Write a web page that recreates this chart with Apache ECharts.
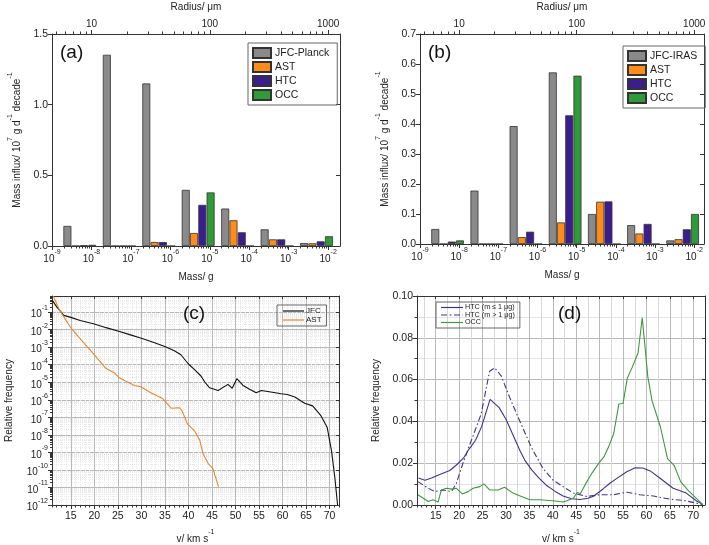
<!DOCTYPE html>
<html><head><meta charset="utf-8">
<script src="https://cdn.jsdelivr.net/npm/echarts@6/dist/echarts.min.js"></script>
<style>html,body{margin:0;padding:0;background:#fff}#c{width:709px;height:545px}</style>
</head><body><div id="c"></div>
<script>
// ---------------- DATA ----------------
// lower edge (log10 g) of each mass decade bin
const massBins = [-9, -8, -7, -6, -5, -4, -3];
// panel (a)  mass influx, 10^7 g/d/decade
const aJFC = [0.142, 1.353, 1.150, 0.397, 0.265, 0.118, 0.021];
const aAST = [0, 0, 0.028, 0.092, 0.182, 0.047, 0.019];
const aHTC = [0.005, 0, 0.028, 0.291, 0.097, 0.047, 0.033];
const aOCC = [0.008, 0, 0, 0.379, 0, 0, 0.069];
// panel (b)
const bJFC = [0.050, 0.178, 0.393, 0.572, 0.100, 0.063, 0.012];
const bAST = [0, 0, 0.023, 0.072, 0.141, 0.035, 0.016];
const bHTC = [0.008, 0, 0.041, 0.429, 0.142, 0.067, 0.049];
const bOCC = [0.012, 0, 0, 0.561, 0, 0, 0.100];
// tick labels
const massTickExp = [-9, -8, -7, -6, -5, -4, -3, -2];
const radiusTicks = [10, 100, 1000];
const vTicks = [15, 20, 25, 30, 35, 40, 45, 50, 55, 60, 65, 70];
const logTickExp = [-12, -11, -10, -9, -8, -7, -6, -5, -4, -3, -2, -1];
// panel (c) velocity distributions (v km/s, relative frequency)
const cJFCv = [11, 12, 12.6, 13.5, 15, 17, 20, 22.5, 25, 27.5, 30, 32.5, 35, 37, 38.4, 40, 41.3, 42.7, 43.5, 44.5, 46.3, 48.4, 49.3, 50.3, 51.6, 53, 54.4, 55.5, 57.5, 59.7, 61, 62.6, 64.7, 66.4, 68.2, 69.5, 70.4, 71.1, 71.7];
const cJFCf = [0.5, 0.2, 0.13, 0.065, 0.05, 0.033, 0.021, 0.013, 0.0083, 0.0052, 0.0032, 0.0019, 0.0011, 6.3e-4, 3.7e-4, 1.1e-4, 5.2e-5, 2.2e-5, 1.0e-5, 4.8e-6, 3.4e-6, 7.6e-6, 4.5e-6, 1.6e-5, 6.6e-6, 4e-6, 2.5e-6, 3.4e-6, 2.8e-6, 2.2e-6, 2.0e-6, 1.45e-6, 6.3e-7, 4.5e-7, 1.2e-7, 2.6e-8, 1.26e-9, 4e-11, 1e-12];
const cASTv = [11.3, 12.6, 15.1, 17.2, 19.7, 22.5, 24.3, 25.3, 28.5, 29.9, 32, 34.5, 36.3, 38.1, 38.6, 39.8, 41.3, 42.4, 43.1, 44.2, 45.2, 46.4];
const cASTf = [0.8, 0.13, 0.0117, 0.0026, 4.6e-4, 6e-5, 3.4e-5, 1.8e-5, 6.6e-6, 5.5e-6, 2.5e-6, 1.2e-6, 3.3e-7, 3.5e-7, 2.5e-7, 4.2e-8, 1.7e-8, 5e-9, 8.3e-10, 2.3e-10, 1.2e-10, 1.07e-11];
// panel (d)
const dHTC1v = [11.3, 12.7, 14.1, 15.6, 18, 19.6, 20.9, 22.2, 23.5, 24.8, 26.6, 28.5, 30, 31.5, 33, 34, 35.5, 37, 38.7, 40.5, 42.2, 44, 45.8, 47.5, 48.7, 50.8, 52.2, 53.6, 55.8, 57.6, 59.2, 60.8, 62.9, 65.7, 68.5, 70.7, 72];
const dHTC1f = [0.0129, 0.0118, 0.0129, 0.0144, 0.0165, 0.0195, 0.0224, 0.027, 0.031, 0.0375, 0.0505, 0.0467, 0.041, 0.0335, 0.026, 0.0215, 0.0168, 0.013, 0.0093, 0.0065, 0.0043, 0.003, 0.0026, 0.0032, 0.0042, 0.0078, 0.0104, 0.0126, 0.0159, 0.0178, 0.0177, 0.0163, 0.0128, 0.008, 0.0057, 0.0019, 0.0003];
const dHTC2v = [11.2, 13.4, 14.8, 16.6, 18.4, 19.4, 20.8, 22.6, 24.7, 26.5, 27.6, 29, 30.8, 32.9, 35.4, 37.9, 40, 42.2, 44.4, 47.2, 50.1, 52.9, 55.8, 58.6, 61.5, 65, 67.9, 70.7, 72];
const dHTC2f = [0.0112, 0.008, 0.0064, 0.0072, 0.0064, 0.0104, 0.0199, 0.0309, 0.0435, 0.064, 0.0656, 0.0617, 0.0514, 0.0404, 0.0277, 0.0175, 0.012, 0.0088, 0.0057, 0.0041, 0.0049, 0.0049, 0.0061, 0.0049, 0.0043, 0.0028, 0.0022, 0.0009, 0.0002];
const dOCCv = [11.2, 13.4, 14.4, 15.5, 16.2, 17.3, 18.4, 19.4, 20.7, 21.9, 23, 24.4, 25.3, 26.5, 28.3, 29.7, 31.5, 32.9, 35.1, 37.2, 40, 42.2, 43, 44.4, 45.2, 45.9, 47, 48.4, 49.8, 50.9, 51.9, 53, 54.1, 55, 55.9, 56.9, 58.2, 59.1, 60.3, 61.2, 63, 64.5, 65.9, 67.3, 68.8, 70.2, 72];
const dOCCf = [0.0049, 0.0017, 0.0025, 0.0014, 0.0072, 0.008, 0.0076, 0.008, 0.0053, 0.0064, 0.008, 0.0088, 0.0101, 0.0072, 0.0072, 0.0085, 0.0057, 0.0044, 0.0025, 0.0025, 0.002, 0.0014, 0.002, 0.0033, 0.006, 0.0055, 0.0101, 0.0154, 0.0199, 0.023, 0.0277, 0.0341, 0.0483, 0.0486, 0.0606, 0.0656, 0.0727, 0.0896, 0.0612, 0.0498, 0.0372, 0.0222, 0.019, 0.0112, 0.0072, 0.0041, 0.0003];

// ---------------- STYLE / LAYOUT ----------------
const FONT = '"Liberation Sans", Arial, sans-serif';
const TXT = '#222';
const AX = {color: '#333', width: 1};
const C = {jfc: '#8a8a8a', ast: '#ff8c1a', htc: '#3b1d8f', occ: '#2f9a3a'};
const LC = {jfc: '#111111', ast: '#e8872e', htc: '#3d3392', occ: '#3c9a3c'};
const barOffsets = [0.39, 0.60, 0.81, 1.02]; // position of each series inside a decade bin
const LINE_ICON = 'rect';
const DASHDOT_ICON = 'path://M0,0h6v1h-6z M8.5,0h2v1h-2z M13,0h6v1h-6z M21.5,0h0.5v1h-0.5z';
const rich = {
  b: {fontSize: 10, lineHeight: 15, verticalAlign: 'bottom', fontFamily: FONT, color: TXT},
  s: {fontSize: 7, lineHeight: 15, verticalAlign: 'top', fontFamily: FONT, color: TXT}
};
const nameStyle = {fontSize: 10, fontFamily: FONT, color: TXT, rich: rich};
const zip = (xs, ys) => xs.map((x, i) => [x, ys[i]]);
const sup10 = e => '{b|10}{s|' + e + '}';

// minor tick positions
const massMinor = [];
for (let d = -9; d < -1; d++) for (let k = 2; k <= 9; k++) massMinor.push(d + Math.log10(k));
const radiusMinor = [];
for (let n = 0; n < 4; n++) for (let k = 2; k <= 9; k++) radiusMinor.push(n + Math.log10(k));
const logMinor = [];
for (let e = -12; e < 0; e++) for (let k = 2; k <= 9; k++) logMinor.push(k * Math.pow(10, e));
const vMinor = []; for (let v = 11; v <= 72; v++) vMinor.push(v);
const vHalf = vTicks.map(v => v - 2.5).concat([vTicks[vTicks.length - 1] + 2.5]);
const logMajor = logTickExp.map(e => Math.pow(10, e));
const radiusMajor = radiusTicks.map(r => Math.log10(r));

const grids = [
  {left: 52, top: 34, width: 288, height: 212},
  {left: 420, top: 34, width: 284, height: 210},
  {left: 52, top: 296, width: 287, height: 211},
  {left: 417, top: 296, width: 288, height: 211}
];

const xAxes = [], yAxes = [], series = [], legends = [];

function barPanel(g, maxLog, yMax, yInt, data, names, legendPos) {
  const rMin = 1 + (-9 + 8) / 3, rMax = 1 + (maxLog + 8) / 3; // r ∝ m^(1/3); 10 µm ↔ 1e-8 g
  const xi = xAxes.length;
  xAxes.push({gridIndex: g, type: 'value', min: -9, max: maxLog, position: 'bottom',
    axisLine: {show: true, lineStyle: AX},
    axisTick: {customValues: massTickExp, length: 4, lineStyle: AX},
    axisLabel: {customValues: massTickExp, formatter: v => sup10(Math.round(v)), rich: rich, margin: 3},
    splitLine: {show: false},
    name: 'Mass/ g', nameLocation: 'middle', nameGap: 26, nameTextStyle: nameStyle});
  xAxes.push({gridIndex: g, type: 'value', min: -9, max: maxLog, position: 'bottom',
    axisLine: {show: false}, axisTick: {customValues: massMinor, length: 2.5, lineStyle: AX},
    axisLabel: {show: false}, splitLine: {show: false}});
  xAxes.push({gridIndex: g, type: 'value', min: rMin, max: rMax, position: 'top',
    axisLine: {show: true, lineStyle: AX},
    axisTick: {customValues: radiusMajor, length: 4, lineStyle: AX},
    axisLabel: {customValues: radiusMajor, formatter: v => String(Math.round(Math.pow(10, v))), fontSize: 10, fontFamily: FONT, color: TXT, margin: 5},
    splitLine: {show: false},
    name: 'Radius/ μm', nameLocation: 'middle', nameGap: 22, nameTextStyle: nameStyle});
  xAxes.push({gridIndex: g, type: 'value', min: rMin, max: rMax, position: 'top',
    axisLine: {show: false}, axisTick: {customValues: radiusMinor, length: 2.5, lineStyle: AX},
    axisLabel: {show: false}, splitLine: {show: false}});
  const yi = yAxes.length;
  yAxes.push({gridIndex: g, type: 'value', min: 0, max: yMax, interval: yInt, position: 'left',
    axisLine: {show: true, lineStyle: AX}, axisTick: {length: 4, lineStyle: AX},
    axisLabel: {formatter: v => v.toFixed(1), fontSize: 10.5, fontFamily: FONT, color: TXT, margin: 4},
    splitLine: {show: false},
    name: '{b|Mass influx/ 10}{s|7}{b| g d}{s|-1}{b| decade}{s|-1}', nameLocation: 'middle', nameRotate: 90, nameGap: 30,
    nameTextStyle: nameStyle});
  yAxes.push({gridIndex: g, type: 'value', min: 0, max: yMax, interval: yInt, position: 'right',
    axisLine: {show: true, lineStyle: AX}, axisTick: {inside: true, length: 4, lineStyle: AX},
    axisLabel: {show: false}, splitLine: {show: false}});
  const colors = [C.jfc, C.ast, C.htc, C.occ];
  data.forEach((vals, k) => {
    series.push({type: 'bar', name: names[k], xAxisIndex: xi, yAxisIndex: yi,
      barWidth: 8, barGap: '-100%',
      itemStyle: {color: colors[k], borderColor: '#333', borderWidth: 0.8},
      data: massBins.map((b, i) => [b + barOffsets[k], vals[i]])});
  });
  legends.push({data: names, left: legendPos[0], top: legendPos[1], orient: 'vertical',
    icon: 'rect', itemWidth: 18, itemHeight: 10, itemGap: 2, padding: [4, 8, 4, 4],
    borderColor: '#666', borderWidth: 1, selectedMode: false,
    formatter: n => n.slice(2),
    textStyle: {fontSize: 10.5, fontFamily: FONT, color: TXT, padding: [0, 0, 0, -1]}});
}

barPanel(0, -1.7, 1.5, 0.5, [aJFC, aAST, aHTC, aOCC], ['a:JFC-Planck', 'a:AST', 'a:HTC', 'a:OCC'], [248, 43]);
barPanel(1, -1.75, 0.7, 0.1, [bJFC, bAST, bHTC, bOCC], ['b:JFC-IRAS', 'b:AST', 'b:HTC', 'b:OCC'], [623, 46]);

function vAxes(g, maxV) {
  xAxes.push({gridIndex: g, type: 'value', min: 11, max: maxV, position: 'bottom',
    axisLine: {show: false}, axisTick: {customValues: vMinor, length: 2.5, lineStyle: AX},
    axisLabel: {show: false}, splitLine: {show: false}});
  const xi = xAxes.length;
  xAxes.push({gridIndex: g, type: 'value', min: 11, max: maxV, position: 'bottom',
    axisLine: {show: true, lineStyle: AX},
    axisTick: {customValues: vTicks, length: 4, lineStyle: AX},
    axisLabel: {customValues: vTicks, fontSize: 10.5, fontFamily: FONT, color: TXT, margin: 6},
    splitLine: {show: true, lineStyle: {color: '#b9b9b9', width: 1}},
    name: '{b|v/ km s}{s|-1}', nameLocation: 'middle', nameGap: 24, nameTextStyle: nameStyle});
  xAxes.push({gridIndex: g, type: 'value', min: 11, max: maxV, position: 'top',
    axisLine: {show: true, lineStyle: AX},
    axisTick: {customValues: vTicks, inside: true, length: 3, lineStyle: AX},
    axisLabel: {show: false}, splitLine: {show: false}});
  return xi;
}

// panel (c)
const cxMinor = xAxes.length;
const cx = vAxes(2, 72);
xAxes[cxMinor].splitLine = {show: true, lineStyle: {color: '#e8e8e8', width: 1, type: 'dotted'}};
yAxes.push({gridIndex: 2, type: 'log', min: 1e-12, max: 0.83, position: 'left',
  axisLine: {show: false}, axisTick: {customValues: logMinor, length: 2, lineStyle: AX},
  axisLabel: {show: false}, splitLine: {show: true, lineStyle: {color: '#ebebeb', width: 1, type: 'dotted'}}});
const cy = yAxes.length;
yAxes.push({gridIndex: 2, type: 'log', min: 1e-12, max: 0.83, position: 'left',
  axisLine: {show: true, lineStyle: AX},
  axisTick: {customValues: logMajor, length: 4, lineStyle: AX},
  axisLabel: {customValues: logMajor, formatter: v => sup10(Math.round(Math.log10(v))), rich: rich, margin: 4},
  splitLine: {show: true, lineStyle: {color: '#b9b9b9', width: 1}},
  name: 'Relative frequency', nameLocation: 'middle', nameRotate: 90, nameGap: 38, nameTextStyle: nameStyle});
yAxes.push({gridIndex: 2, type: 'log', min: 1e-12, max: 0.83, position: 'right',
  axisLine: {show: true, lineStyle: AX}, axisTick: {customValues: logMajor, inside: true, length: 3, lineStyle: AX},
  axisLabel: {show: false}, splitLine: {show: false}});
series.push({type: 'line', name: 'c:JFC', xAxisIndex: cx, yAxisIndex: cy, showSymbol: false, symbol: 'none',
  lineStyle: {color: LC.jfc, width: 1.1}, itemStyle: {color: LC.jfc}, data: zip(cJFCv, cJFCf)});
series.push({type: 'line', name: 'c:AST', xAxisIndex: cx, yAxisIndex: cy, showSymbol: false, symbol: 'none',
  lineStyle: {color: LC.ast, width: 1.1}, itemStyle: {color: LC.ast}, data: zip(cASTv, cASTf)});
legends.push({data: [{name: 'c:JFC', icon: LINE_ICON}, {name: 'c:AST', icon: LINE_ICON}], left: 277, top: 305, orient: 'vertical',
  itemWidth: 21, itemHeight: 1.2, itemGap: 1, padding: [2, 5, 2, 6],
  borderColor: '#666', borderWidth: 1, selectedMode: false, formatter: n => n.slice(2),
  textStyle: {fontSize: 8, fontFamily: FONT, color: TXT, padding: [0, 0, 0, -3]}});

// panel (d)
const dx = vAxes(3, 72.5);
xAxes.push({gridIndex: 3, type: 'value', min: 11, max: 72.5, position: 'bottom',
  axisLine: {show: false}, axisTick: {show: false, customValues: vHalf},
  axisLabel: {show: false}, splitLine: {show: true, lineStyle: {color: '#d8d8d8', width: 1}}});
yAxes.push({gridIndex: 3, type: 'value', min: 0, max: 0.1, interval: 0.02, position: 'left',
  axisLine: {show: true, lineStyle: AX}, axisTick: {length: 4, lineStyle: AX},
  minorTick: {show: true, splitNumber: 2, length: 2.5, lineStyle: AX},
  axisLabel: {formatter: v => v.toFixed(2), fontSize: 10.5, fontFamily: FONT, color: TXT, margin: 4},
  splitLine: {show: true, lineStyle: {color: '#b9b9b9', width: 1}},
  minorSplitLine: {show: true, lineStyle: {color: '#e3e3e3', width: 1}},
  name: 'Relative frequency', nameLocation: 'middle', nameRotate: 90, nameGap: 36, nameTextStyle: nameStyle});
const dy = yAxes.length - 1;
yAxes.push({gridIndex: 3, type: 'value', min: 0, max: 0.1, interval: 0.02, position: 'right',
  axisLine: {show: true, lineStyle: AX}, axisTick: {inside: true, length: 3, lineStyle: AX},
  axisLabel: {show: false}, splitLine: {show: false}});
series.push({type: 'line', name: 'd:HTC (m ≤ 1 μg)', xAxisIndex: dx, yAxisIndex: dy, showSymbol: false, symbol: 'none',
  lineStyle: {color: LC.htc, width: 1.1}, itemStyle: {color: LC.htc}, data: zip(dHTC1v, dHTC1f)});
series.push({type: 'line', name: 'd:HTC (m > 1 μg)', xAxisIndex: dx, yAxisIndex: dy, showSymbol: false, symbol: 'none',
  lineStyle: {color: LC.htc, width: 1.1, type: [6, 2.5, 1.5, 2.5]}, itemStyle: {color: LC.htc}, data: zip(dHTC2v, dHTC2f)});
series.push({type: 'line', name: 'd:OCC', xAxisIndex: dx, yAxisIndex: dy, showSymbol: false, symbol: 'none',
  lineStyle: {color: LC.occ, width: 1.1}, itemStyle: {color: LC.occ}, data: zip(dOCCv, dOCCf)});
legends.push({data: [{name: 'd:HTC (m ≤ 1 μg)', icon: LINE_ICON}, {name: 'd:HTC (m > 1 μg)', icon: DASHDOT_ICON}, {name: 'd:OCC', icon: LINE_ICON}],
  left: 436, top: 302, orient: 'vertical',
  itemWidth: 22, itemHeight: 1.2, itemGap: 0.5, padding: [2, 5, 2, 5],
  borderColor: '#666', borderWidth: 1, selectedMode: false, formatter: n => n.slice(2),
  textStyle: {fontSize: 7.2, fontFamily: FONT, color: TXT, padding: [0, 0, 0, -3]}});

const panelLabel = (t, x, y) => ({type: 'text', left: x, top: y, z: 100,
  style: {text: t, fontSize: 19, fontFamily: FONT, fill: '#111'}});

const chart = echarts.init(document.getElementById('c'));
chart.setOption({
  animation: false,
  backgroundColor: '#fff',
  grid: grids,
  xAxis: xAxes,
  yAxis: yAxes,
  legend: legends,
  series: series,
  graphic: [panelLabel('(a)', 60, 43), panelLabel('(b)', 428, 43), panelLabel('(c)', 183, 304), panelLabel('(d)', 558, 304)]
});
</script></body></html>
